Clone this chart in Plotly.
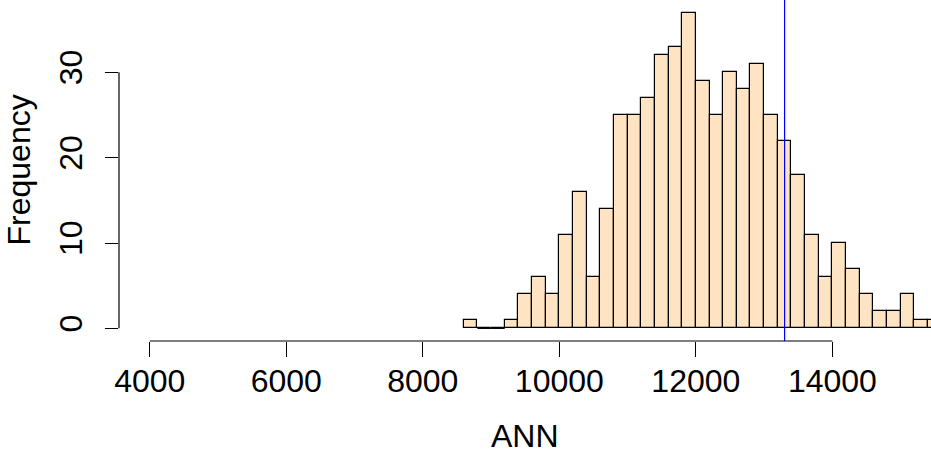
import plotly.graph_objects as go

bin_start = 8600
bin_width = 200
counts = [1, 0, 0, 1, 4, 6, 4, 11, 16, 6, 14, 25, 25, 27, 32, 33, 37, 29, 25, 30,
          28, 31, 25, 22, 18, 11, 6, 10, 7, 4, 2, 2, 4, 1, 1]
x_ticks = [4000, 6000, 8000, 10000, 12000, 14000]
y_ticks = [0, 10, 20, 30]
ref_value = 13300
x_title = "ANN"
y_title = "Frequency"

lefts = [bin_start + i * bin_width for i in range(len(counts))]
centers = [l + bin_width / 2 for l in lefts]

FONT = "Liberation Sans, Arial, sans-serif"
FS = 32

fig = go.Figure()
fig.add_trace(go.Bar(
    x=centers, y=counts, width=bin_width,
    marker=dict(color="#FFE4C4", line=dict(color="black", width=1.2)),
    showlegend=False, hoverinfo="skip",
))

# zero-count bins drawn as flat segments at the baseline (as R does)
zx, zy = [], []
for l, c in zip(lefts, counts):
    if c == 0:
        zx += [l, l + bin_width, None]
        zy += [0, 0, None]
fig.add_trace(go.Scatter(x=zx, y=zy, mode="lines",
                         line=dict(color="black", width=1.2),
                         showlegend=False, hoverinfo="skip"))

# axis lines spanning only the tick range (R style)
fig.add_shape(type="line", xref="x", yref="paper",
              x0=min(x_ticks), x1=max(x_ticks), y0=0, y1=0,
              line=dict(color="black", width=1.2))
fig.add_shape(type="line", xref="paper", yref="y",
              x0=0, x1=0, y0=min(y_ticks), y1=max(y_ticks),
              line=dict(color="black", width=1.2))
# reference vertical line
fig.add_shape(type="line", xref="x", yref="paper",
              x0=ref_value, x1=ref_value, y0=0, y1=1,
              line=dict(color="#0000FF", width=1.2))

# axis titles
fig.add_annotation(text=x_title, xref="paper", yref="paper", x=0.5, y=0,
                   xanchor="center", yanchor="middle", yshift=-95,
                   showarrow=False, font=dict(family=FONT, size=FS, color="black"))
fig.add_annotation(text=y_title, xref="paper", yref="paper", x=0, y=0.5,
                   xanchor="center", yanchor="middle", xshift=-101, textangle=-90,
                   showarrow=False, font=dict(family=FONT, size=FS, color="black"))

fig.update_layout(
    width=931, height=455,
    margin=dict(l=118.5, r=0, t=0, b=114),
    paper_bgcolor="white", plot_bgcolor="white",
    bargap=0,
    font=dict(family=FONT, size=FS, color="black"),
    xaxis=dict(range=[3549, 15445], tickvals=x_ticks,
               ticktext=[str(v) for v in x_ticks],
               ticks="outside", ticklen=15, tickwidth=1.2, tickcolor="black",
               showline=False, showgrid=False, zeroline=False, automargin=False,
               tickfont=dict(family=FONT, size=FS), ticklabelstandoff=-3),
    yaxis=dict(range=[-1.48, 38.48], tickvals=y_ticks,
               ticktext=[str(v) for v in y_ticks],
               ticks="outside", ticklen=13.5, tickwidth=1.2, tickcolor="black",
               tickangle=-90, ticklabelstandoff=10,
               showline=False, showgrid=False, zeroline=False, automargin=False,
               tickfont=dict(family=FONT, size=FS)),
)

fig.write_html("out.html", config={"displayModeBar": False},
               post_script="document.body.style.margin='0';document.body.style.overflow='hidden';")
